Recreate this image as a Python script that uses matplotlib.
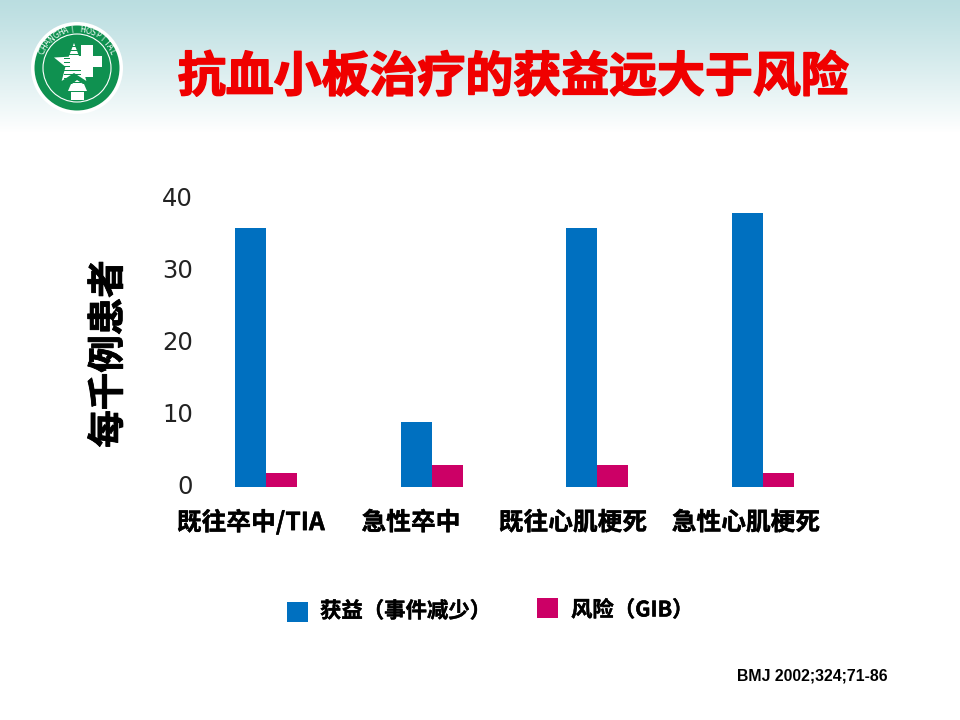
import numpy as np
import matplotlib
matplotlib.use("Agg")
import matplotlib.pyplot as plt
import matplotlib.patheffects as pe
import matplotlib.transforms as mtrans
from matplotlib.patches import Circle, Rectangle, Polygon

plt.rcParams['font.family'] = ['Noto Sans CJK SC', 'DejaVu Sans']

categories = ["既往卒中/TIA", "急性卒中", "既往心肌梗死", "急性心肌梗死"]
benefit = [36, 9, 36, 38]
risk = [2, 3, 3, 2]
yticks = [0, 10, 20, 30, 40]
title = "抗血小板治疗的获益远大于风险"
ylabel = "每千例患者"
legend_labels = ["获益（事件减少）", "风险（GIB）"]
source = "BMJ 2002;324;71-86"
logo_text = "CHANGHAI HOSPITAL"

BLUE = "#0070c0"
PINK = "#cc0066"
GREEN = "#0f9150"


def heavy(width, color):
    return [pe.withStroke(linewidth=width, foreground=color)]


fig = plt.figure(figsize=(9.6, 7.2), dpi=100)

# page layer in pixel coordinates
bg = fig.add_axes([0, 0, 1, 1])
bg.axis("off")

top = np.array([0.73, 0.87, 0.88])
grad = np.ones((140, 1, 3))
for i in range(140):
    t = min(i / 132, 1) ** 1.15
    grad[i, 0] = top * (1 - t) + np.ones(3) * t
bg.imshow(grad, extent=[0, 960, 140, 0], aspect="auto", zorder=0)
bg.set_xlim(0, 960)
bg.set_ylim(720, 0)

# logo
cx, cy = 77, 68
bg.add_patch(Circle((cx, cy), 46, fc="white", ec="none", zorder=1))
bg.add_patch(Circle((cx, cy), 42.5, fc=GREEN, ec="none", zorder=2))
bg.add_patch(Circle((cx, cy), 34, fc="none", ec="white", lw=0.8, zorder=3))
ang = np.deg2rad(np.arange(0, 360, 36) - 90)
rad = np.where(np.arange(10) % 2 == 0, 21, 9)
star = np.c_[74 + rad * np.cos(ang), 64 + rad * np.sin(ang)]
bg.add_patch(Polygon(star, fc="white", ec="none", zorder=4))
for yy in range(46, 84, 4):
    bg.add_patch(Rectangle((64, yy), 17, 1.2, fc=GREEN, ec="none", zorder=5))
bg.add_patch(Rectangle((81, 45), 12, 32, fc="white", ec="none", zorder=6))
bg.add_patch(Rectangle((70, 56), 32, 11, fc="white", ec="none", zorder=6))
bg.add_patch(Polygon([(68, 91), (71, 84), (84, 84), (87, 91)], fc="white", ec="none", zorder=4))
bg.add_patch(Polygon([(72, 84), (77, 80), (83, 84)], fc="white", ec="none", zorder=4))
bg.add_patch(Rectangle((71, 92), 13, 8, fc="white", ec="none", zorder=4))
angles = np.linspace(-65, 65, len(logo_text))
for ch, a in zip(logo_text, angles):
    r = np.deg2rad(a)
    bg.text(cx + 38.5 * np.sin(r), cy - 38.5 * np.cos(r), ch, color="white", fontsize=5.5,
            rotation=-a, ha="center", va="center", family="DejaVu Sans", zorder=5)

bg.text(513, 77, title, color="#f00000", fontsize=34.5, fontweight="bold", ha="center", va="center",
        path_effects=heavy(1.2, "#f00000"))
bg.text(108, 354, ylabel, color="black", fontsize=27, fontweight="bold", rotation=90, ha="center", va="center",
        path_effects=heavy(0.6, "black"))

label_x = [251, 411, 573, 746]
label_y = [522, 523, 523, 523]
for name, x, y in zip(categories, label_x, label_y):
    bg.text(x, y, name, fontsize=17.8, fontweight="bold", color="black", ha="center", va="center",
            path_effects=heavy(0.3, "black"))

# legend
bg.add_patch(Rectangle((287, 602), 21, 20, fc=BLUE, ec="none"))
bg.add_patch(Rectangle((537, 598), 21, 20, fc=PINK, ec="none"))
bg.text(320, 611, legend_labels[0], fontsize=15.4, fontweight="bold", ha="left", va="center",
        path_effects=heavy(0.3, "black"))
bg.text(571, 610, legend_labels[1], fontsize=15.4, fontweight="bold", ha="left", va="center",
        path_effects=heavy(0.3, "black"))
bg.text(888, 676, source, fontsize=11.4, fontweight="bold", family="Liberation Sans", ha="right", va="center")

# chart
ax = fig.add_axes([183 / 960, 1 - 487 / 720, 663 / 960, 288 / 720])
ax.patch.set_alpha(0)
x = np.arange(len(categories))
w = 0.187
ax.bar(x - w / 2, benefit, w, color=BLUE)
ax.bar(x + w / 2, risk, w, color=PINK)
ax.set_xlim(-0.5, 3.5)
ax.set_ylim(0, 40)
ax.set_yticks(yticks)
ax.set_xticks([])
ax.tick_params(axis="y", length=0, pad=-7, labelsize=17.5, labelcolor="#222222")
nudge = mtrans.ScaledTranslation(0, 2 / 100, fig.dpi_scale_trans)
for label in ax.get_yticklabels():
    label.set_family("DejaVu Sans")
    label.set_transform(label.get_transform() + nudge)
for s in ax.spines.values():
    s.set_visible(False)

fig.savefig("out.png", dpi=100)
